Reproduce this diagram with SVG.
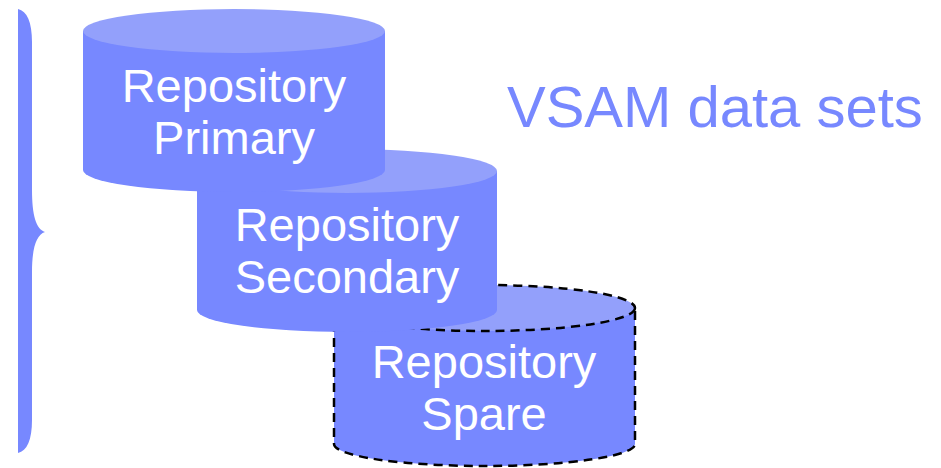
<svg xmlns="http://www.w3.org/2000/svg" width="941" height="468" viewBox="0 0 941 468">
  <style>
    .body { fill: #7788ff; }
    .top { fill: #93a0fb; }
    .label { font-family: "Liberation Sans", Arial, sans-serif; font-size: 47px; fill: #ffffff; text-anchor: middle; }
    .title { font-family: "Liberation Sans", Arial, sans-serif; font-size: 58px; fill: #7788ff; }
    .dashed { fill: none; stroke: #000000; stroke-width: 2.5; stroke-dasharray: 9 6; }
  </style>

  <!-- bracket spanning the data sets -->
  <g id="bracket">
    <path fill="#7788ff" d="M18 9 C27 11 32 22 32 42 L32 190 C32 215 36 229 45 232 C36 235 32 249 32 272 L32 420 C32 440 27 451 18 453 Z"/>
  </g>

  <!-- spare repository (drawn first, sits behind) -->
  <g id="spare">
    <path class="body" d="M334 308 L334 444 A150.5 22 0 0 0 635 444 L635 308 Z"/>
    <ellipse class="top" cx="484.5" cy="308" rx="150.5" ry="23"/>
    <path class="dashed" d="M334 308 L334 444 A150.5 22 0 0 0 635 444 L635 308"/>
    <ellipse class="dashed" cx="484.5" cy="308" rx="150.5" ry="23"/>
    <text class="label" x="484" y="378">Repository</text>
    <text class="label" x="484" y="430">Spare</text>
  </g>

  <!-- secondary repository -->
  <g id="secondary">
    <path class="body" d="M197 171 L197 310 A150 22 0 0 0 497 310 L497 171 Z"/>
    <ellipse class="top" cx="347" cy="171" rx="150" ry="22"/>
    <text class="label" x="347" y="241">Repository</text>
    <text class="label" x="347" y="293">Secondary</text>
  </g>

  <!-- primary repository -->
  <g id="primary">
    <path class="body" d="M83 31 L83 170 A151 22 0 0 0 385 170 L385 31 Z"/>
    <ellipse class="top" cx="234" cy="31" rx="151" ry="22"/>
    <text class="label" x="234" y="102">Repository</text>
    <text class="label" x="234" y="154">Primary</text>
  </g>

  <g id="connectors"/>

  <text class="title" x="507" y="127">VSAM data sets</text>
</svg>
